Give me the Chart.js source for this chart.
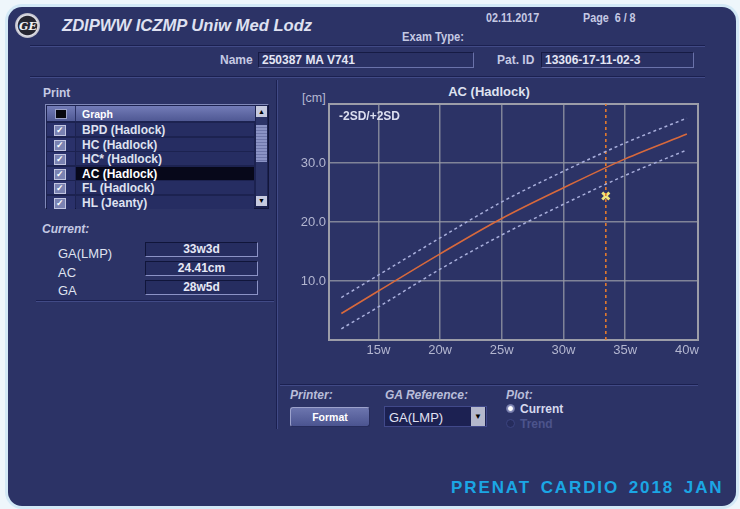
<!DOCTYPE html>
<html>
<head>
<meta charset="utf-8">
<script src="https://cdn.jsdelivr.net/npm/chart.js@4.4.0/dist/chart.umd.min.js"></script>
<style>
  body { margin:0; width:740px; height:509px; background:#eef6fb; overflow:hidden; position:relative;
         font-family:"Liberation Sans", Arial, sans-serif; }
  #panel { position:absolute; left:8px; top:7px; width:728px; height:499px; background:#2c3366;
           border-radius:14px; box-shadow:0 0 0 3px #d3e9f6; }
  .t { position:absolute; white-space:nowrap; line-height:1; transform:translateY(-50%); }
  .nar { transform:translateY(-50%) scaleX(.86); transform-origin:left center; }
  .lbl { color:#c5c9e3; font-weight:bold; font-size:12px; }
  .it { font-style:italic; }
  .sep { position:absolute; height:1px; background:#1b2050; border-bottom:1px solid #414a86; }
  .vsep { position:absolute; width:1px; background:#1b2050; border-right:1px solid #414a86; }
  .field { position:absolute; height:14px; background:#2a3164; border:1px solid #6a72aa;
           border-top-color:#161b44; border-left-color:#161b44; color:#e4e6f4; font-weight:bold;
           font-size:12px; line-height:14px; padding-left:3px; box-sizing:content-box; }
  .vbox { position:absolute; width:111px; height:13px; background:#262d60; border:1px solid #8c93c6;
          border-top-color:#10153a; border-left-color:#10153a; color:#e6e8f5; font-weight:bold;
          font-size:12px; line-height:13px; text-align:center; }
  .row { position:absolute; left:47px; width:208px; height:13px; }
  .row .cb { position:absolute; left:0; top:0; width:28px; height:13px; background:#2a316a; }
  .row .cb span { position:absolute; left:7px; top:2px; width:10px; height:9px; background:#7a82b2;
                  border:1px solid #c0c4e0; color:#fff; font-size:9px; line-height:9px; text-align:center; font-weight:bold; }
  .row .tx { position:absolute; left:29px; top:0; width:178px; height:13px; background:#262d62;
             color:#dfe2f0; font-weight:bold; font-size:12px; line-height:14px; padding-left:6px; box-sizing:border-box; }
  .row.sel .tx { background:#07081a; color:#fff; }
  #chartBox { position:absolute; left:280px; top:80px; width:430px; height:285px; }
</style>
</head>
<body>
<div id="panel"></div>

<!-- header -->
<div style="position:absolute;left:15px;top:13px;width:25px;height:25px;border-radius:50%;background:radial-gradient(circle,#262631 52%,#e2e2ea 58%,#9a9aa8 78%,#50506a 100%);"></div>
<div class="t" style="left:19px;top:25.5px;color:#f0f0f4;font:italic bold 11px 'DejaVu Serif',serif;">GE</div>
<div class="t" style="left:62px;top:26px;color:#dfe1f1;font-weight:bold;font-style:italic;font-size:16.6px;">ZDIPWW ICZMP Uniw Med Lodz</div>
<div class="t nar lbl" style="left:486px;top:18px;font-size:12.5px;">02.11.2017</div>
<div class="t nar lbl" style="left:583px;top:18px;font-size:12.5px;">Page&nbsp;&nbsp;6 / 8</div>
<div class="t nar lbl" style="left:402px;top:36px;font-size:13px;">Exam Type:</div>
<div class="sep" style="left:30px;top:45px;width:675px;"></div>
<div class="t lbl" style="left:220px;top:60px;">Name</div>
<div class="field" style="left:258px;top:52px;width:211px;">250387 MA V741</div>
<div class="t lbl" style="left:497px;top:60px;">Pat. ID</div>
<div class="field" style="left:541px;top:52px;width:148px;">13306-17-11-02-3</div>
<div class="sep" style="left:30px;top:76px;width:675px;"></div>

<!-- left panel -->
<div class="t lbl" style="left:43px;top:93px;">Print</div>
<div style="position:absolute;left:45px;top:104px;width:222px;height:103px;background:#1c2250;border:1px solid #8088b8;border-right-color:#12163a;border-bottom-color:#12163a;"></div>
<div style="position:absolute;left:47px;top:106px;width:208px;height:15px;background:linear-gradient(#737cb8,#4f5893);"></div>
<div style="position:absolute;left:55px;top:109px;width:10px;height:8px;background:#07070f;border:1px solid #9aa0c8;"></div>
<div style="position:absolute;left:75px;top:106px;width:1px;height:15px;background:#2a3064;"></div>
<div class="t" style="left:82px;top:114px;color:#fff;font-weight:bold;font-size:10.5px;">Graph</div>
<div class="row" style="top:123px;"><div class="cb"><span>✓</span></div><div class="tx">BPD (Hadlock)</div></div>
<div class="row" style="top:137.5px;"><div class="cb"><span>✓</span></div><div class="tx">HC (Hadlock)</div></div>
<div class="row" style="top:152px;"><div class="cb"><span>✓</span></div><div class="tx">HC* (Hadlock)</div></div>
<div class="row sel" style="top:166.5px;"><div class="cb"><span>✓</span></div><div class="tx">AC (Hadlock)</div></div>
<div class="row" style="top:181px;"><div class="cb"><span>✓</span></div><div class="tx">FL (Hadlock)</div></div>
<div class="row" style="top:195.5px;"><div class="cb"><span>✓</span></div><div class="tx">HL (Jeanty)</div></div>
<div style="position:absolute;left:256px;top:106px;width:11px;height:100px;background:#2c3468;"></div>
<div style="position:absolute;left:256px;top:106px;width:11px;height:11px;background:#c6cadf;color:#000;font-size:7px;line-height:11px;text-align:center;">▲</div>
<div style="position:absolute;left:256px;top:125px;width:11px;height:37px;background:repeating-linear-gradient(#8b93c5 0 2px,#6f77ab 2px 3px);"></div>
<div style="position:absolute;left:256px;top:196px;width:11px;height:10px;background:#c6cadf;color:#000;font-size:7px;line-height:10px;text-align:center;">▼</div>

<div class="t lbl it" style="left:42px;top:229px;">Current:</div>
<div class="t" style="left:58px;top:253px;color:#dfe2f0;font-size:13px;">GA(LMP)</div>
<div class="vbox" style="left:145px;top:242px;">33w3d</div>
<div class="t" style="left:58px;top:271.5px;color:#dfe2f0;font-size:13px;">AC</div>
<div class="vbox" style="left:145px;top:261px;">24.41cm</div>
<div class="t" style="left:58px;top:290px;color:#dfe2f0;font-size:13px;">GA</div>
<div class="vbox" style="left:145px;top:280px;">28w5d</div>
<div class="sep" style="left:36px;top:300px;width:238px;"></div>
<div class="vsep" style="left:276px;top:80px;height:349px;"></div>

<!-- chart -->
<div class="t" style="left:489px;top:91px;transform:translate(-50%,-50%);color:#dfe2f0;font-weight:bold;font-size:13px;">AC (Hadlock)</div>
<div class="t" style="left:302px;top:98px;color:#b6b9d2;font-size:12.5px;">[cm]</div>
<div id="chartBox"><canvas id="chart"></canvas></div>
<div class="t" style="left:339px;top:116px;color:#dcdff0;font-weight:bold;font-size:12px;z-index:2;">-2SD/+2SD</div>

<!-- bottom controls -->
<div class="sep" style="left:280px;top:384px;width:418px;"></div>
<div class="t lbl it" style="left:290px;top:395px;color:#b9bdd9;">Printer:</div>
<div style="position:absolute;left:290px;top:407px;width:78px;height:18px;border-radius:3px;background:linear-gradient(#6c75ae,#4b5490);border:1px solid #9ca2cc;border-bottom-color:#262c5c;border-right-color:#262c5c;color:#fff;font-weight:bold;font-size:10.5px;line-height:18px;text-align:center;">Format</div>
<div class="t lbl it" style="left:385px;top:395px;color:#b9bdd9;">GA Reference:</div>
<div style="position:absolute;left:384px;top:406px;width:101px;height:19px;background:#1c2152;border:1px solid #41498a;"></div>
<div class="t" style="left:389px;top:417px;color:#e0e2f2;font-size:13px;">GA(LMP)</div>
<div style="position:absolute;left:471px;top:407px;width:14px;height:19px;background:#b4b8cc;color:#000;font-size:8px;line-height:19px;text-align:center;">▼</div>
<div class="t lbl it" style="left:506px;top:395px;color:#b9bdd9;">Plot:</div>
<div style="position:absolute;left:506px;top:404px;width:9px;height:9px;border-radius:50%;background:radial-gradient(circle,#fff 30%,#8a90bb 45%,#3a4178 100%);"></div>
<div class="t" style="left:520px;top:409px;color:#d6d9ee;font-weight:bold;font-size:12px;">Current</div>
<div style="position:absolute;left:506px;top:419px;width:9px;height:9px;border-radius:50%;background:#262c5c;border:1px solid #3c4480;box-sizing:border-box;"></div>
<div class="t" style="left:520px;top:424px;color:#4c548c;font-weight:bold;font-size:12px;">Trend</div>

<div class="t" style="left:451px;top:487px;color:#1ba6e4;font-weight:bold;font-size:17px;letter-spacing:1.9px;word-spacing:3px;">PRENAT CARDIO 2018 JAN</div>

<script>
// gestational age in weeks and AC in cm (Hadlock)
const weeks = [12, 15, 20, 25, 30, 35, 40];
const acMean = [4.5, 8.3, 14.6, 20.6, 25.8, 30.7, 34.9];
const acPlus2SD = [7.2, 11.0, 17.3, 23.4, 28.6, 33.4, 37.6];
const acMinus2SD = [1.9, 5.6, 12.0, 17.8, 23.0, 27.9, 32.2];

// current exam: GA 33w3d, AC 24.41 cm
const currentGA = [33.43];
const currentAC = [24.41];

const xTicks = [15, 20, 25, 30, 35, 40];
const yTicks = [10, 20, 30];
const xRange = [11, 40.9];
const yRange = [0, 40];

const gridColor = 'rgba(150,152,165,0.8)';
const tickColor = '#b3b6d0';

function points(ys) {
    return weeks.map((w, i) => ({x: w, y: ys[i]}));
}

const frameBox = {
    id: 'frameBox',
    beforeDatasetsDraw(chart) {
        const a = chart.chartArea;
        const ctx = chart.ctx;
        ctx.save();
        ctx.strokeStyle = '#9c9da8';
        ctx.lineWidth = 2;
        ctx.strokeRect(a.left, a.top, a.right - a.left, a.bottom - a.top);
        ctx.restore();
    }
};

const sdStyle = {
    borderColor: '#a9afdc',
    borderDash: [3, 3],
    borderWidth: 1.5,
    pointRadius: 0,
    cubicInterpolationMode: 'monotone',
    fill: false
};

new Chart(document.getElementById('chart'), {
    type: 'line',
    data: {
        datasets: [
            Object.assign({label: '+2SD', data: points(acPlus2SD)}, sdStyle),
            Object.assign({label: '-2SD', data: points(acMinus2SD)}, sdStyle),
            {
                label: 'Mean',
                data: points(acMean),
                borderColor: '#d8693c',
                borderWidth: 1.6,
                pointRadius: 0,
                cubicInterpolationMode: 'monotone',
                fill: false
            },
            {
                label: 'GA',
                data: [{x: currentGA[0], y: yRange[0]}, {x: currentGA[0], y: yRange[1]}],
                borderColor: '#e27a2e',
                borderDash: [3, 3],
                borderWidth: 1.6,
                pointRadius: 0
            },
            {
                label: 'Current',
                data: currentGA.map((g, i) => ({x: g, y: currentAC[i]})),
                showLine: false,
                pointStyle: 'crossRot',
                pointRadius: 5,
                borderWidth: 2.8,
                borderColor: '#efe57a',
                backgroundColor: '#efe57a'
            }
        ]
    },
    options: {
        responsive: true,
        maintainAspectRatio: false,
        animation: false,
        layout: {padding: {top: 24, right: 12, left: 0, bottom: 0}},
        plugins: {legend: {display: false}, tooltip: {enabled: false}},
        scales: {
            x: {
                type: 'linear',
                min: xRange[0],
                max: xRange[1],
                afterBuildTicks: (s) => { s.ticks = xTicks.map(v => ({value: v})); },
                afterFit: (s) => { s.height = 25; },
                border: {display: false},
                grid: {
                    color: (c) => (c.tick && c.tick.value === 40) ? 'rgba(0,0,0,0)' : gridColor,
                    lineWidth: 1.5,
                    drawTicks: false
                },
                ticks: {
                    color: tickColor,
                    font: {family: "'Liberation Sans', Arial", size: 13},
                    padding: 3,
                    maxRotation: 0,
                    autoSkip: false,
                    callback: (v) => v + 'w'
                }
            },
            y: {
                min: yRange[0],
                max: yRange[1],
                afterBuildTicks: (s) => { s.ticks = yTicks.map(v => ({value: v})); },
                afterFit: (s) => { s.width = 49; },
                border: {display: false},
                grid: {color: gridColor, lineWidth: 1.5, drawTicks: false},
                ticks: {
                    color: tickColor,
                    font: {family: "'Liberation Sans', Arial", size: 13},
                    padding: 3,
                    callback: (v) => Number(v).toFixed(1)
                }
            }
        }
    },
    plugins: [frameBox]
});
</script>
</body>
</html>
